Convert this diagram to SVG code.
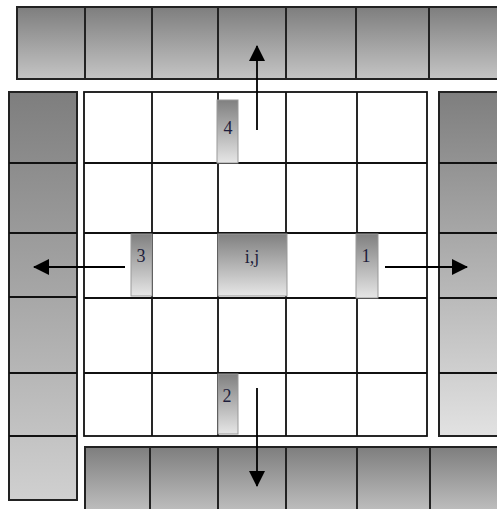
<svg xmlns="http://www.w3.org/2000/svg" width="497" height="509" viewBox="0 0 497 509">
<defs>
<linearGradient id="gCell" x1="0" y1="0" x2="0" y2="1">
<stop offset="0" stop-color="#7e7e7e"/><stop offset="1" stop-color="#c4c4c4"/>
</linearGradient>
<linearGradient id="gLeft" x1="0" y1="0" x2="0" y2="1">
<stop offset="0" stop-color="#7e7e7e"/><stop offset="1" stop-color="#d0d0d0"/>
</linearGradient>
<linearGradient id="gRight" x1="0" y1="0" x2="0" y2="1">
<stop offset="0" stop-color="#7e7e7e"/><stop offset="1" stop-color="#e2e2e2"/>
</linearGradient>
<linearGradient id="gHi" x1="0" y1="0" x2="0" y2="1">
<stop offset="0" stop-color="#808080"/><stop offset="1" stop-color="#e6e6e6"/>
</linearGradient>
<marker id="ah" viewBox="0 0 16 16" refX="15" refY="8" markerWidth="16" markerHeight="16" markerUnits="userSpaceOnUse" orient="auto">
<path d="M0,0 L16,8 L0,16 Z" fill="#000"/>
</marker>
</defs>
<style>
.bar{stroke:#222;stroke-width:2}
.grid{fill:#fff;stroke:#111;stroke-width:1.8}
.gl{stroke:#111;stroke-width:1.8;fill:none}
.hi{fill:url(#gHi);stroke:#999;stroke-width:1}
.lbl{font-family:"Liberation Serif","Times New Roman",serif;font-size:18px;fill:#1e1e3c;text-anchor:middle}
.arrow{stroke:#000;stroke-width:1.8;fill:none;marker-end:url(#ah)}
</style>

<g id="top-bar">
<rect class="bar" x="17" y="7" width="68" height="72" fill="url(#gCell)"/>
<rect class="bar" x="85" y="7" width="67" height="72" fill="url(#gCell)"/>
<rect class="bar" x="152" y="7" width="66" height="72" fill="url(#gCell)"/>
<rect class="bar" x="218" y="7" width="68" height="72" fill="url(#gCell)"/>
<rect class="bar" x="286" y="7" width="70" height="72" fill="url(#gCell)"/>
<rect class="bar" x="356" y="7" width="73" height="72" fill="url(#gCell)"/>
<rect class="bar" x="429" y="7" width="80" height="72" fill="url(#gCell)"/>
</g>

<g id="left-bar">
<rect class="bar" x="9" y="92" width="68" height="408" fill="url(#gLeft)"/>
<path class="gl" d="M9,163H77M9,233H77M9,297H77M9,373H77M9,436H77"/>
</g>

<g id="right-bar">
<rect class="bar" x="439" y="92" width="70" height="344" fill="url(#gRight)"/>
<path class="gl" d="M439,163H509M439,233H509M439,298H509M439,373H509"/>
</g>

<g id="bottom-bar">
<rect class="bar" x="85" y="447" width="65" height="70" fill="url(#gCell)"/>
<rect class="bar" x="150" y="447" width="68" height="70" fill="url(#gCell)"/>
<rect class="bar" x="218" y="447" width="68" height="70" fill="url(#gCell)"/>
<rect class="bar" x="286" y="447" width="71" height="70" fill="url(#gCell)"/>
<rect class="bar" x="357" y="447" width="73" height="70" fill="url(#gCell)"/>
<rect class="bar" x="430" y="447" width="80" height="70" fill="url(#gCell)"/>
</g>

<g id="grid">
<rect class="grid" x="84" y="92" width="343" height="344"/>
<path class="gl" d="M152,92V436M218,92V436M286,92V436M357,92V436M84,163H427M84,233H427M84,298H427M84,373H427"/>
</g>

<g id="cell-4">
<rect class="hi" x="217" y="100" width="21" height="63"/>
<text class="lbl" x="228" y="134">4</text>
</g>
<g id="cell-3">
<rect class="hi" x="131" y="234" width="21" height="62"/>
<text class="lbl" x="141" y="262">3</text>
</g>
<g id="cell-ij">
<rect class="hi" x="218" y="234" width="69" height="62"/>
<text class="lbl" x="252" y="263">i,j</text>
</g>
<g id="cell-1">
<rect class="hi" x="356" y="234" width="22" height="64"/>
<text class="lbl" x="366" y="262">1</text>
</g>
<g id="cell-2">
<rect class="hi" x="218" y="374" width="20" height="60"/>
<text class="lbl" x="227" y="402">2</text>
</g>

<g id="connectors">
<line class="arrow" x1="257" y1="130" x2="257" y2="46"/>
<line class="arrow" x1="125" y1="267" x2="34" y2="267"/>
<line class="arrow" x1="385" y1="267" x2="467" y2="267"/>
<line class="arrow" x1="257" y1="388" x2="257" y2="486"/>
</g>
</svg>
